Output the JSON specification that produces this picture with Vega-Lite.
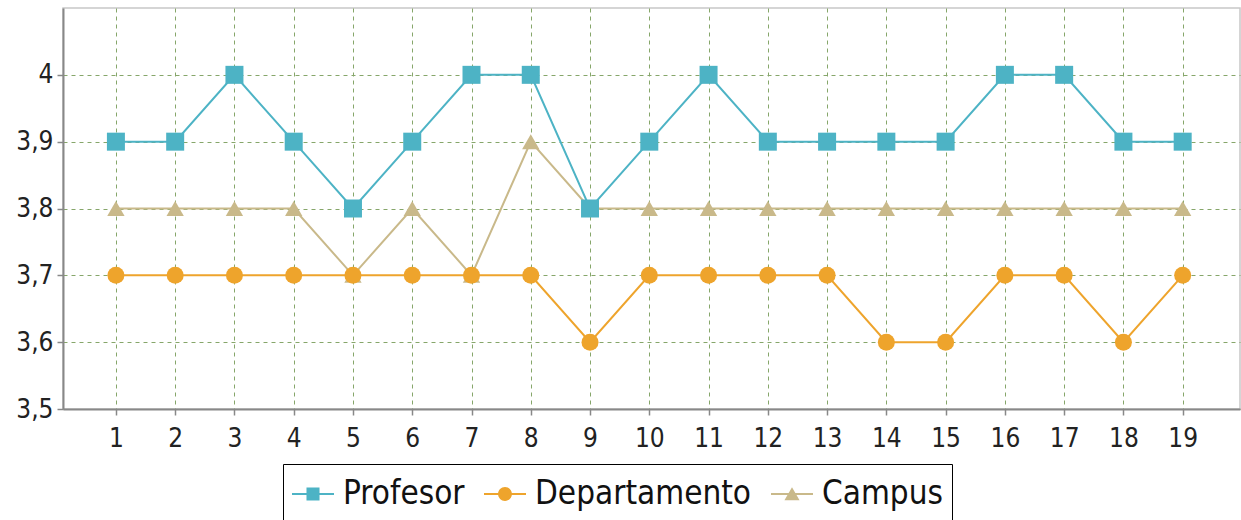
{
  "$schema": "https://vega.github.io/schema/vega-lite/v6.json",
  "autosize": "none",
  "width": 1177,
  "height": 401,
  "padding": {"left": 63, "top": 8, "right": 1, "bottom": 111},
  "background": "white",
  "config": {
    "view": {"stroke": "#c8c8c8", "strokeWidth": 1.5},
    "font": "DejaVu Sans Condensed",
    "axis": {
      "labelFont": "DejaVu Sans Condensed",
      "labelFontSize": 26,
      "labelColor": "#222",
      "domainColor": "#888",
      "domainWidth": 2,
      "tickColor": "#888",
      "tickWidth": 1.5,
      "tickSize": 6,
      "grid": true,
      "gridColor": "#86a66a",
      "gridDash": [4, 4],
      "gridWidth": 1,
      "title": null
    }
  },
  "data": {
    "values": [
      {"n": 1, "serie": "Profesor", "v": 3.9},
      {"n": 2, "serie": "Profesor", "v": 3.9},
      {"n": 3, "serie": "Profesor", "v": 4.0},
      {"n": 4, "serie": "Profesor", "v": 3.9},
      {"n": 5, "serie": "Profesor", "v": 3.8},
      {"n": 6, "serie": "Profesor", "v": 3.9},
      {"n": 7, "serie": "Profesor", "v": 4.0},
      {"n": 8, "serie": "Profesor", "v": 4.0},
      {"n": 9, "serie": "Profesor", "v": 3.8},
      {"n": 10, "serie": "Profesor", "v": 3.9},
      {"n": 11, "serie": "Profesor", "v": 4.0},
      {"n": 12, "serie": "Profesor", "v": 3.9},
      {"n": 13, "serie": "Profesor", "v": 3.9},
      {"n": 14, "serie": "Profesor", "v": 3.9},
      {"n": 15, "serie": "Profesor", "v": 3.9},
      {"n": 16, "serie": "Profesor", "v": 4.0},
      {"n": 17, "serie": "Profesor", "v": 4.0},
      {"n": 18, "serie": "Profesor", "v": 3.9},
      {"n": 19, "serie": "Profesor", "v": 3.9},
      {"n": 1, "serie": "Departamento", "v": 3.7},
      {"n": 2, "serie": "Departamento", "v": 3.7},
      {"n": 3, "serie": "Departamento", "v": 3.7},
      {"n": 4, "serie": "Departamento", "v": 3.7},
      {"n": 5, "serie": "Departamento", "v": 3.7},
      {"n": 6, "serie": "Departamento", "v": 3.7},
      {"n": 7, "serie": "Departamento", "v": 3.7},
      {"n": 8, "serie": "Departamento", "v": 3.7},
      {"n": 9, "serie": "Departamento", "v": 3.6},
      {"n": 10, "serie": "Departamento", "v": 3.7},
      {"n": 11, "serie": "Departamento", "v": 3.7},
      {"n": 12, "serie": "Departamento", "v": 3.7},
      {"n": 13, "serie": "Departamento", "v": 3.7},
      {"n": 14, "serie": "Departamento", "v": 3.6},
      {"n": 15, "serie": "Departamento", "v": 3.6},
      {"n": 16, "serie": "Departamento", "v": 3.7},
      {"n": 17, "serie": "Departamento", "v": 3.7},
      {"n": 18, "serie": "Departamento", "v": 3.6},
      {"n": 19, "serie": "Departamento", "v": 3.7},
      {"n": 1, "serie": "Campus", "v": 3.8},
      {"n": 2, "serie": "Campus", "v": 3.8},
      {"n": 3, "serie": "Campus", "v": 3.8},
      {"n": 4, "serie": "Campus", "v": 3.8},
      {"n": 5, "serie": "Campus", "v": 3.7},
      {"n": 6, "serie": "Campus", "v": 3.8},
      {"n": 7, "serie": "Campus", "v": 3.7},
      {"n": 8, "serie": "Campus", "v": 3.9},
      {"n": 9, "serie": "Campus", "v": 3.8},
      {"n": 10, "serie": "Campus", "v": 3.8},
      {"n": 11, "serie": "Campus", "v": 3.8},
      {"n": 12, "serie": "Campus", "v": 3.8},
      {"n": 13, "serie": "Campus", "v": 3.8},
      {"n": 14, "serie": "Campus", "v": 3.8},
      {"n": 15, "serie": "Campus", "v": 3.8},
      {"n": 16, "serie": "Campus", "v": 3.8},
      {"n": 17, "serie": "Campus", "v": 3.8},
      {"n": 18, "serie": "Campus", "v": 3.8},
      {"n": 19, "serie": "Campus", "v": 3.8}
    ]
  },
  "encoding": {
    "x": {
      "field": "n",
      "type": "ordinal",
      "scale": {"type": "point", "padding": 0.93, "align": 0.48},
      "axis": {"labelAngle": 0, "labelPadding": 10}
    },
    "y": {
      "field": "v",
      "type": "quantitative",
      "scale": {"domain": [3.5, 4.1], "nice": false, "zero": false},
      "axis": {
        "values": [3.5, 3.6, 3.7, 3.8, 3.9, 4.0],
        "labelExpr": "replace(format(datum.value, '.2~g'), '.', ',')",
        "labelPadding": 4
      }
    }
  },
  "layer": [
    {"transform": [{"filter": "datum.serie === 'Campus'"}], "mark": {"type": "line", "color": "#c9b98a", "strokeWidth": 2}},
    {"transform": [{"filter": "datum.serie === 'Departamento'"}], "mark": {"type": "line", "color": "#eea42c", "strokeWidth": 2}},
    {"transform": [{"filter": "datum.serie === 'Profesor'"}], "mark": {"type": "line", "color": "#4db3c5", "strokeWidth": 2}},
    {"transform": [{"filter": "datum.serie === 'Campus'"}], "mark": {"type": "point", "shape": "triangle-up", "filled": true, "opacity": 1, "color": "#c9b98a", "size": 300}},
    {"transform": [{"filter": "datum.serie === 'Departamento'"}], "mark": {"type": "point", "shape": "circle", "filled": true, "opacity": 1, "color": "#eea42c", "size": 290}},
    {"transform": [{"filter": "datum.serie === 'Profesor'"}], "mark": {"type": "point", "shape": "square", "filled": true, "opacity": 1, "color": "#4db3c5", "size": 324}},
    {
      "mark": {"type": "point", "filled": true, "opacity": 0, "size": 1764},
      "encoding": {
        "color": {
          "field": "serie",
          "type": "nominal",
          "scale": {"domain": ["Profesor", "Departamento", "Campus"], "range": ["#4db3c5", "#eea42c", "#c9b98a"]},
          "legend": {
            "title": null,
            "orient": "none",
            "legendX": 220,
            "legendY": 456,
            "direction": "horizontal",
            "strokeColor": "#000",
            "padding": 9,
            "symbolSize": 1764,
            "symbolOpacity": 1,
            "symbolStrokeWidth": 0,
            "labelFont": "DejaVu Sans Condensed",
            "labelFontSize": 33,
            "labelColor": "#111",
            "labelOffset": 9,
            "columnPadding": 19,
            "labelLimit": 400
          }
        },
        "shape": {
          "field": "serie",
          "type": "nominal",
          "scale": {
            "domain": ["Profesor", "Departamento", "Campus"],
            "range": [
              "M-1,-0.05H1V0.05H-1Z M-0.31,-0.31H0.31V0.31H-0.31Z",
              "M-1,-0.05H1V0.05H-1Z M0.33,0A0.33,0.33,0,1,1,-0.33,0A0.33,0.33,0,1,1,0.33,0Z",
              "M-1,-0.05H1V0.05H-1Z M0,-0.32L0.36,0.3H-0.36Z"
            ]
          },
          "legend": {
            "title": null,
            "orient": "none",
            "legendX": 220,
            "legendY": 456,
            "direction": "horizontal",
            "strokeColor": "#000",
            "padding": 9,
            "symbolSize": 1764,
            "symbolOpacity": 1,
            "symbolStrokeWidth": 0,
            "labelFont": "DejaVu Sans Condensed",
            "labelFontSize": 33,
            "labelColor": "#111",
            "labelOffset": 9,
            "columnPadding": 19,
            "labelLimit": 400
          }
        }
      }
    }
  ]
}
